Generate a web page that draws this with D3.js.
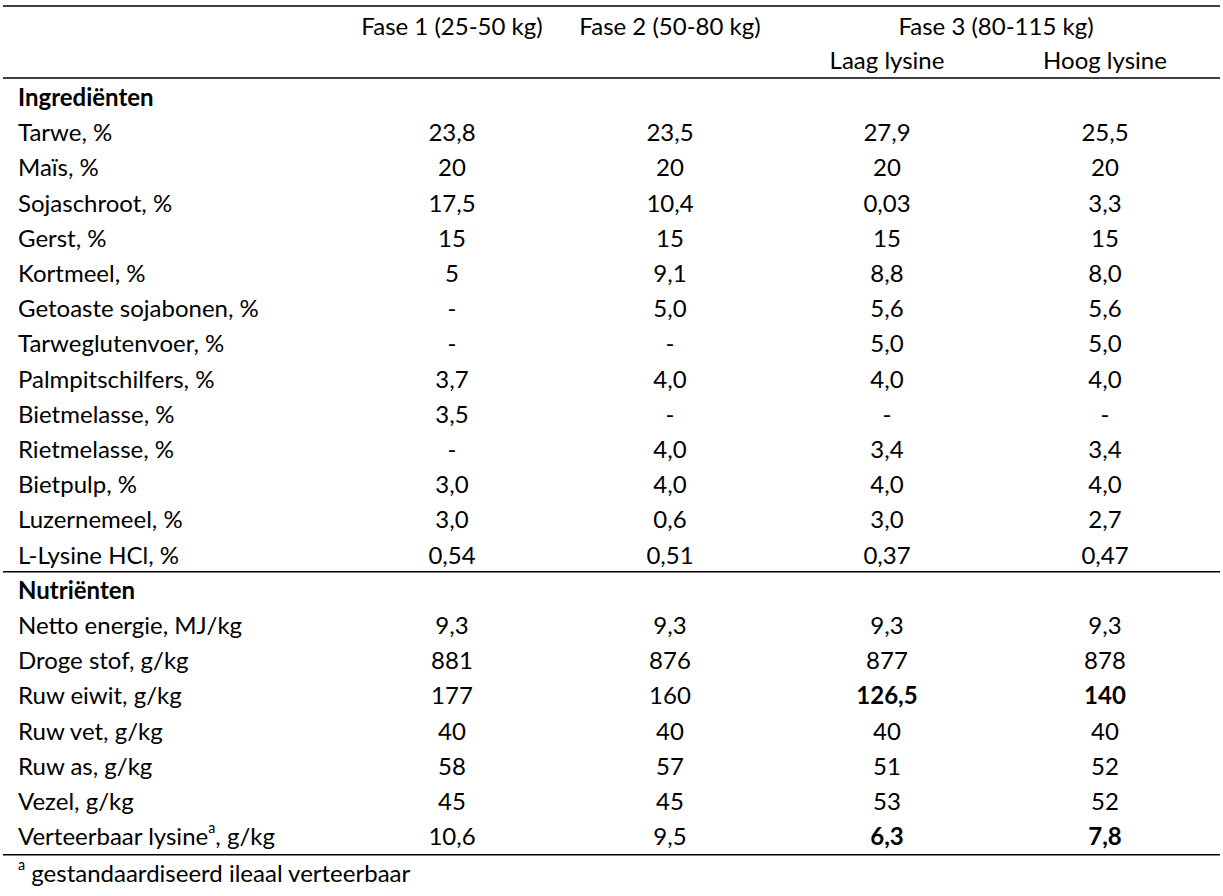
<!DOCTYPE html>
<html><head><meta charset="utf-8">
<script src="https://cdn.jsdelivr.net/npm/d3@7"></script>
<style>body{margin:0;background:#fff;} text{font-family:Lato, "Open Sans", sans-serif;fill:#000;}</style>
</head><body><svg id="c" width="1223" height="896"></svg>
<script>
const columns = ["Fase 1 (25-50 kg)", "Fase 2 (50-80 kg)", "Laag lysine", "Hoog lysine"];
const groupHeader = "Fase 3 (80-115 kg)";
const sections = ["Ingrediënten", "Nutriënten"];
const ingredients = ["Tarwe, %", "Maïs, %", "Sojaschroot, %", "Gerst, %", "Kortmeel, %", "Getoaste sojabonen, %", "Tarweglutenvoer, %", "Palmpitschilfers, %", "Bietmelasse, %", "Rietmelasse, %", "Bietpulp, %", "Luzernemeel, %", "L-Lysine HCl, %"];
const nutrients = ["Netto energie, MJ/kg", "Droge stof, g/kg", "Ruw eiwit, g/kg", "Ruw vet, g/kg", "Ruw as, g/kg", "Vezel, g/kg", "Verteerbaar lysine|a|, g/kg"];
const fase1 = ["23,8","20","17,5","15","5","-","-","3,7","3,5","-","3,0","3,0","0,54","9,3","881","177","40","58","45","10,6"];
const fase2 = ["23,5","20","10,4","15","9,1","5,0","-","4,0","-","4,0","4,0","0,6","0,51","9,3","876","160","40","57","45","9,5"];
const laag  = ["27,9","20","0,03","15","8,8","5,6","5,0","4,0","-","3,4","4,0","3,0","0,37","9,3","877","126,5","40","51","53","6,3"];
const hoog  = ["25,5","20","3,3","15","8,0","5,6","5,0","4,0","-","3,4","4,0","2,7","0,47","9,3","878","140","40","52","52","7,8"];
const boldRows = ["Ruw eiwit, g/kg", "Verteerbaar lysine|a|, g/kg"];
const boldCols = ["Laag lysine", "Hoog lysine"];
const footnote = ["a", " gestandaardiseerd ileaal verteerbaar"];

const svg = d3.select("#c");
const FS = 24;
const rowKeys = ["h1","h2","s0"].concat(ingredients, ["s1"], nutrients, ["fn"]);
const y = d3.scaleBand().domain(rowKeys).range([8, 8 + rowKeys.length*35.2]).padding(0);
const yc = k => y(k) + y.bandwidth()/2;
const x = d3.scaleOrdinal().domain(columns).range([452, 670, 887, 1105]);

function line(yy){ svg.append("line").attr("x1",3).attr("x2",1220).attr("y1",yy).attr("y2",yy).attr("stroke","#000").attr("stroke-width",1.5); }
line(6);
line(78);
line(y("s1") + 0.5);
line(y("fn") + 2);

function txt(s, xx, yy, anchor, bold){
  const t = svg.append("text").attr("x",xx).attr("y",yy).attr("dominant-baseline","central")
    .attr("text-anchor",anchor).attr("font-size",FS).attr("font-weight",bold?"bold":"normal");
  const parts = s.split("|");
  parts.forEach((p,i)=>{
    if(i%2===1) t.append("tspan").attr("font-size",FS*0.6).attr("dy",-8).text(p);
    else t.append("tspan").attr("dy", i>0?8:0).text(p);
  });
  return t;
}

txt(columns[0], x(columns[0]), yc("h1")-1, "middle");
txt(columns[1], x(columns[1]), yc("h1")-1, "middle");
txt(groupHeader, (x(columns[2])+x(columns[3]))/2, yc("h1")-1, "middle");
txt(columns[2], x(columns[2]), yc("h2")-2, "middle");
txt(columns[3], x(columns[3]), yc("h2")-2, "middle");

txt(sections[0], 18, yc("s0"), "start", true);
txt(sections[1], 18, yc("s1"), "start", true);

const labels = ingredients.concat(nutrients);
const series = [fase1, fase2, laag, hoog];
labels.forEach((lab,i)=>{
  txt(lab, 18, yc(lab), "start");
  series.forEach((s,j)=>{
    const col = columns[j];
    const b = boldRows.includes(lab) && boldCols.includes(col);
    txt(s[i], x(col), yc(lab), "middle", b);
  });
});
txt("|"+footnote[0]+"|"+footnote[1], 18, yc("fn")+2, "start");
</script></body></html>
